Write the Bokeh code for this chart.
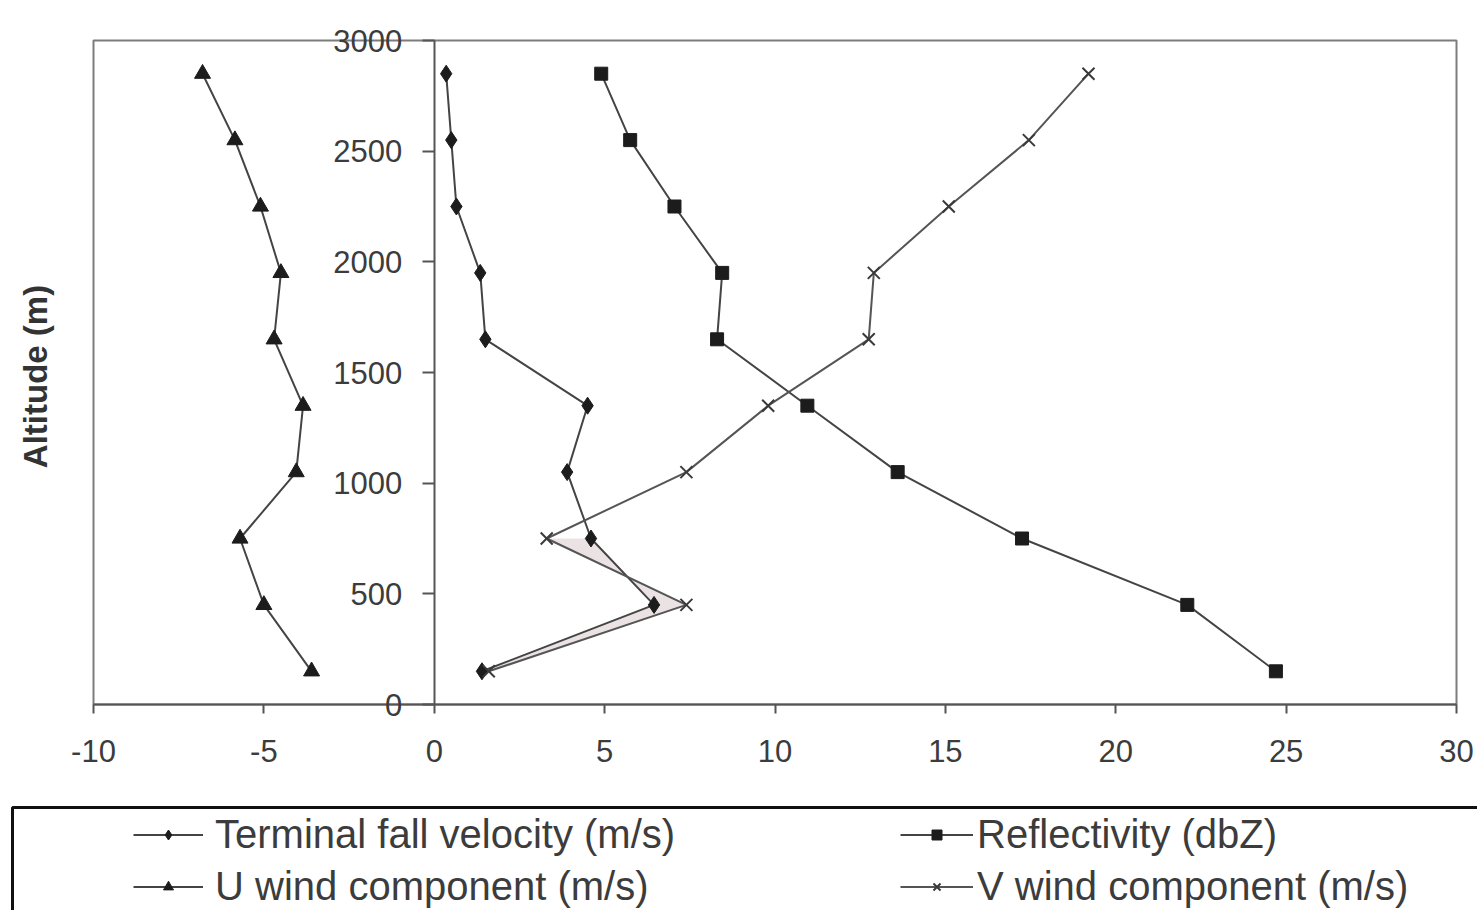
import math
from bokeh.plotting import figure
from bokeh.models import (ColumnDataSource, Range1d, FixedTicker, Legend, LegendItem,
                          BoxAnnotation, Label)
from bokeh.embed import file_html
from bokeh.resources import INLINE

# ---------------- data ----------------
altitude = [150, 450, 750, 1050, 1350, 1650, 1950, 2250, 2550, 2850]
terminal_fall_velocity = [1.4, 6.45, 4.6, 3.9, 4.5, 1.5, 1.35, 0.65, 0.5, 0.35]
u_wind = [-3.6, -5.0, -5.7, -4.05, -3.85, -4.7, -4.5, -5.1, -5.85, -6.8]
reflectivity = [24.7, 22.1, 17.25, 13.6, 10.95, 8.3, 8.45, 7.05, 5.75, 4.9]
v_wind = [1.6, 7.4, 3.3, 7.4, 9.8, 12.75, 12.9, 15.1, 17.45, 19.2]

x_ticks = [-10, -5, 0, 5, 10, 15, 20, 25, 30]
y_ticks = [0, 500, 1000, 1500, 2000, 2500, 3000]
y_label = "Altitude (m)"
labels = ["Terminal fall velocity (m/s)", "U wind component (m/s)",
          "Reflectivity (dbZ)", "V wind component (m/s)"]
shade_n = 3  # lowest levels where the fall-velocity / V-wind lobes are shaded

# ---------------- layout constants (pixels) ----------------
W, H = 1477, 910
BOX_L, BOX_R, BOX_T, BOX_B = 93, 1456, 40, 704      # plot box on the canvas
LEG_L, LEG_R, LEG_T, LEG_B = 12, 1484, 807, 916      # legend box (runs off the right/bottom edge)

FONT = "Liberation Sans"
LINE = "#444444"
MARK = "#1c1c1c"
TXT = "#3c3c3c"

x0, x1 = x_ticks[0], x_ticks[-1]
y0, y1 = y_ticks[0], y_ticks[-1]
sx = (x1 - x0) / (BOX_R - BOX_L)
sy = (y1 - y0) / (BOX_B - BOX_T)

src = ColumnDataSource(data=dict(alt=altitude, tfv=terminal_fall_velocity, u=u_wind,
                                 refl=reflectivity, v=v_wind))
shade = ColumnDataSource(data=dict(alt=altitude[:shade_n], x1=terminal_fall_velocity[:shade_n],
                                   x2=v_wind[:shade_n]))

p = figure(width=W, height=H, output_backend="svg", toolbar_location=None,
           x_range=Range1d(x0 - BOX_L * sx, x1 + (W - BOX_R) * sx),
           y_range=Range1d(y0 - (H - BOX_B) * sy, y1 + BOX_T * sy),
           min_border=0, min_border_left=0, min_border_right=0,
           min_border_top=0, min_border_bottom=0)
p.background_fill_color = "white"
p.border_fill_color = "white"
p.outline_line_color = None
p.xgrid.visible = False
p.ygrid.visible = False

# plot box
p.add_layout(BoxAnnotation(left=x0, right=x1, bottom=y0, top=y1, fill_alpha=0,
                           line_color="#7c7c7c", line_alpha=1, line_width=2, level="underlay"))

# x axis along altitude 0
xa = p.xaxis[0]
xa.fixed_location = y0
xa.bounds = (x0, x1)
xa.ticker = FixedTicker(ticks=x_ticks)
xa.major_label_overrides = {t: str(t) for t in x_ticks}
xa.minor_tick_line_color = None
xa.major_tick_in = 0
xa.major_tick_out = 9
xa.major_tick_line_color = "#555"
xa.major_tick_line_width = 2
xa.axis_line_color = "#555"
xa.axis_line_width = 2
xa.major_label_text_font = FONT
xa.major_label_text_font_size = "31px"
xa.major_label_text_color = TXT
xa.major_label_standoff = 26

# y axis standing at x = 0
ya = p.yaxis[0]
ya.fixed_location = 0
ya.bounds = (y0, y1)
ya.ticker = FixedTicker(ticks=y_ticks)
ya.minor_tick_line_color = None
ya.major_tick_in = 0
ya.major_tick_out = 12
ya.major_tick_line_color = "#555"
ya.major_tick_line_width = 2
ya.axis_line_color = "#555"
ya.axis_line_width = 2
ya.major_label_text_font = FONT
ya.major_label_text_font_size = "31px"
ya.major_label_text_color = TXT
ya.major_label_standoff = 20

p.add_layout(Label(x=35, y=H - 376, x_units="screen", y_units="screen", text=y_label,
                   angle=math.pi / 2, text_align="center", text_baseline="middle",
                   text_font=FONT, text_font_size="33px", text_font_style="bold",
                   text_color="#333"))

# shaded lobes between fall velocity and V wind
p.harea(y="alt", x1="x1", x2="x2", source=shade, fill_color="#ebe3e3", fill_alpha=1)

# series
u_line = p.line("u", "alt", source=src, line_color=LINE, line_width=2)
u_mark = p.scatter("u", "alt", source=src, marker="triangle", size=16, color=MARK)

t_line = p.line("tfv", "alt", source=src, line_color=LINE, line_width=2)
t_mark = p.scatter("tfv", "alt", source=src, marker="diamond", size=17, color=MARK)

r_line = p.line("refl", "alt", source=src, line_color=LINE, line_width=2)
r_mark = p.scatter("refl", "alt", source=src, marker="square", size=13, color=MARK)

v_line = p.line("v", "alt", source=src, line_color="#555555", line_width=2)
v_mark = p.scatter("v", "alt", source=src, marker="x", size=17, line_width=2, color="#3a3a3a")

# ---------------- legend ----------------
p.add_layout(BoxAnnotation(left=LEG_L, right=LEG_R, top=H - LEG_T, bottom=H - LEG_B,
                           left_units="screen", right_units="screen",
                           top_units="screen", bottom_units="screen",
                           fill_alpha=0, line_color="#111", line_alpha=1, line_width=3))


def make_legend(items, loc, gw, standoff):
    return Legend(items=items, location=loc, orientation="vertical",
                  glyph_width=gw, glyph_height=25, label_standoff=standoff,
                  label_text_font=FONT, label_text_font_size="40px", label_text_color=TXT,
                  spacing=7, padding=0, margin=0,
                  border_line_color=None, background_fill_alpha=0)


leg_a = make_legend([LegendItem(label=labels[0], renderers=[t_line, t_mark]),
                     LegendItem(label=labels[1], renderers=[u_line, u_mark])], (133, 1), 70, 12)
leg_b = make_legend([LegendItem(label=labels[2], renderers=[r_line, r_mark]),
                     LegendItem(label=labels[3], renderers=[v_line, v_mark])], (900, 1), 73, 4)
p.add_layout(leg_a, "center")
p.add_layout(leg_b, "center")

open("out.html", "w").write(file_html(p, INLINE))
